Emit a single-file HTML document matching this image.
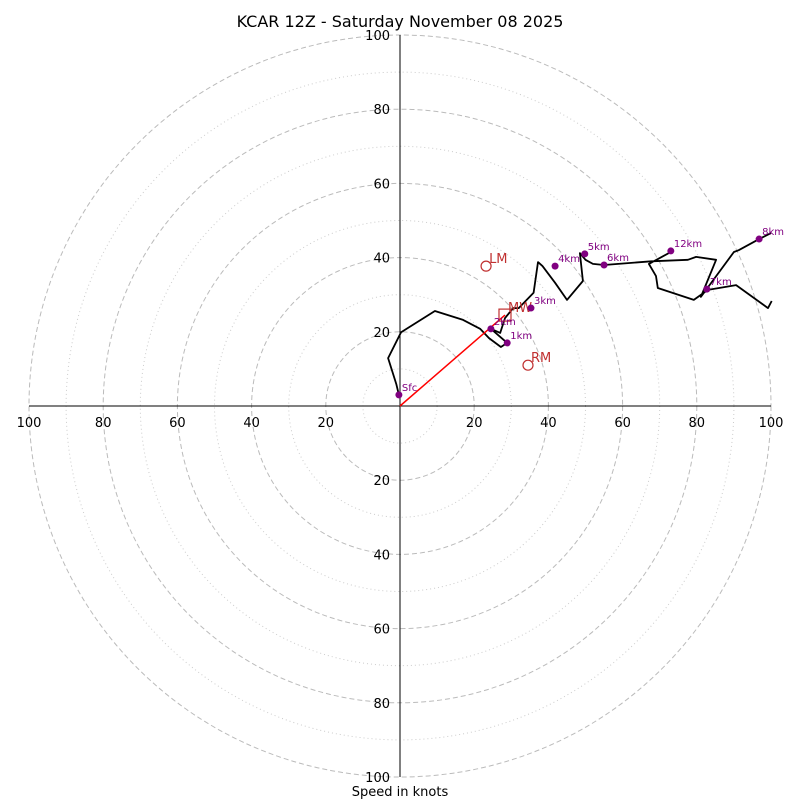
<!DOCTYPE html>
<html><head><meta charset="utf-8"><style>
body{margin:0;background:#fff}
svg{display:block;font-family:"DejaVu Sans","Liberation Sans",sans-serif}
</style></head><body>
<svg id="c" width="800" height="800"></svg>
<script>
const ringsMajor=[20,40,60,80,100];
const ringsMinor=[10,30,50,70,90];
const tickLabels=["100","80","60","40","20","","20","40","60","80","100"];
const tickValues=[-100,-80,-60,-40,-20,0,20,40,60,80,100];
// wind profile u,v in knots (null = break)
const traceU=[-0.3,-1,-3.2,0.3,9.4,17,21.6,24,27.2,28.9,24.5,27,28.3,30.5,32,36,37.2,38.4,41.8,45,49.3,48.5,50,52,55,67.7,77.6,79.8,85.2,81.1,90,91.3,96.8,100,null,100.2,99.2,90.6,83,79.2,69.5,69,67.1,73];
const traceV=[3,5.9,12.9,19.9,25.6,23.2,20.8,18.3,15.9,17,20.8,19.7,23.7,26.4,26.4,30.5,38.8,37.7,33.2,28.6,33.7,41.2,39.4,38.3,38,39,39.4,40.2,39.4,29.4,41.5,42,45,46.6,null,28.3,26.4,32.6,31.3,28.6,31.8,35,38.3,41.5];
const markerNames=["Sfc","1km","2km","3km","4km","5km","6km","7km","8km","12km"];
const markerU=[-0.3,28.9,24.5,35.3,41.8,49.8,55,82.7,96.8,73];
const markerV=[3,17,20.8,26.4,37.7,41,38,31.5,45,41.8];
const stormNames=["LM","RM"];
const stormU=[23.2,34.5];
const stormV=[37.7,11];
const meanWindU=[28.3];
const meanWindV=[24.5];

const cx=400,cy=406,R=371,S=R/100;
const X=u=>cx+u*S, Y=v=>cy-v*S;
const svg=document.getElementById('c');
const NS='http://www.w3.org/2000/svg';
function mk(t,a,p){const e=document.createElementNS(NS,t);for(const k in a)e.setAttribute(k,a[k]);(p||svg).appendChild(e);return e;}

const t=mk('text',{x:400,y:27,'text-anchor':'middle','font-size':16});
t.textContent='KCAR 12Z - Saturday November 08 2025';



ringsMinor.forEach(r=>{const c=mk('circle',{cx,cy,r:r*S,fill:'none',stroke:'#ccc','stroke-width':1,'stroke-dasharray':'1 3'});

});
ringsMajor.forEach(r=>{const c=mk('circle',{cx,cy,r:r*S,fill:'none',stroke:'#bbb','stroke-width':1,'stroke-dasharray':'5 3'});

});

const ax1=mk('line',{x1:X(-100),y1:cy,x2:X(100),y2:cy,stroke:'#000'});


const ax2=mk('line',{x1:cx,y1:Y(100),x2:cx,y2:Y(-100),stroke:'#000'});



tickValues.forEach((v,i)=>{if(!tickLabels[i])return;
 const a=mk('text',{x:X(v),y:cy+21,'text-anchor':'middle','font-size':13});a.textContent=tickLabels[i];
 
 
 const b=mk('text',{x:cx-10,y:Y(-v)+5,'text-anchor':'end','font-size':13});b.textContent=tickLabels[i];
 
 
});
const xl=mk('text',{x:400,y:796,'text-anchor':'middle','font-size':13});xl.textContent='Speed in knots';



let d='',pen=false;
traceU.forEach((u,i)=>{if(u===null){pen=false;return;}d+=(pen?'L':'M')+X(u).toFixed(1)+' '+Y(traceV[i]).toFixed(1);pen=true;});
const tr=mk('path',{d,fill:'none',stroke:'#000','stroke-width':1.8,'stroke-linejoin':'round'});



const ar=mk('line',{x1:X(0),y1:Y(0),x2:X(meanWindU[0]),y2:Y(meanWindV[0]),stroke:'red','stroke-width':1.5});


const sq=mk('rect',{x:X(meanWindU[0])-6,y:Y(meanWindV[0])-6,width:12,height:12,fill:'none',stroke:'#c03030','stroke-width':1.2});


const mwt=mk('text',{x:X(meanWindU[0])+3,y:Y(meanWindV[0])-3,'font-size':13,fill:'#c03030'});mwt.textContent='MW';



stormNames.forEach((n,i)=>{
 const c=mk('circle',{cx:X(stormU[i]),cy:Y(stormV[i]),r:5,fill:'none',stroke:'#c03030','stroke-width':1.2});
 
 
 const l=mk('text',{x:X(stormU[i])+3,y:Y(stormV[i])-3,'font-size':13,fill:'#c03030'});l.textContent=n;
 
 
});

markerNames.forEach((n,i)=>{
 const c=mk('circle',{cx:X(markerU[i]),cy:Y(markerV[i]),r:3.5,fill:'purple'});
 
 
 const l=mk('text',{x:X(markerU[i])+3,y:Y(markerV[i])-4,'font-size':10,fill:'purple'});l.textContent=n;
 
 
});
</script>
</body></html>
